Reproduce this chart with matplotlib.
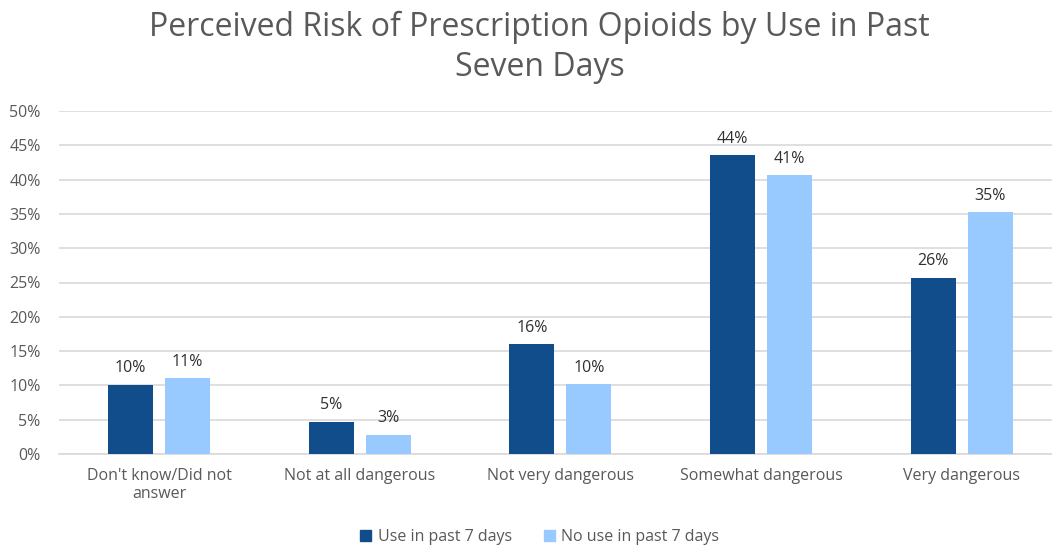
import matplotlib
matplotlib.use("Agg")
import matplotlib.pyplot as plt
import numpy as np
from matplotlib.patches import Patch

plt.rcParams['font.family'] = ['Open Sans', 'DejaVu Sans']

categories = ["Don't know/Did not\nanswer", "Not at all dangerous", "Not very dangerous",
              "Somewhat dangerous", "Very dangerous"]
use_7d = [10.1, 4.7, 16.0, 43.6, 25.7]
no_use_7d = [11.1, 2.8, 10.2, 40.6, 35.3]
use_labels = ["10%", "5%", "16%", "44%", "26%"]
no_use_labels = ["11%", "3%", "10%", "41%", "35%"]
series_names = ["Use in past 7 days", "No use in past 7 days"]
yticks = [0, 5, 10, 15, 20, 25, 30, 35, 40, 45, 50]

dark = "#114D8A"
light = "#99CAFF"
text_grey = "#595959"
grid_grey = "#D9D9D9"

fig = plt.figure(figsize=(10.52, 5.46), dpi=100)
ax = fig.add_axes([58.6 / 1052, 92 / 546, 1003.5 / 1052, 343 / 546])

x = np.arange(len(categories))
w = 0.225
off = 0.142
b1 = ax.bar(x - off, use_7d, w, color=dark, zorder=3)
b2 = ax.bar(x + off, no_use_7d, w, color=light, zorder=3)

for rect, lab in zip(b1, use_labels):
    ax.annotate(lab, (rect.get_x() + rect.get_width() / 2, rect.get_height()),
                xytext=(0, 6), textcoords="offset points", ha="center", va="bottom",
                fontsize=11.5, color="#303030")
for rect, lab in zip(b2, no_use_labels):
    ax.annotate(lab, (rect.get_x() + rect.get_width() / 2, rect.get_height()),
                xytext=(0, 6), textcoords="offset points", ha="center", va="bottom",
                fontsize=11.5, color="#303030")

ax.set_xlim(-0.5, len(categories) - 0.5)
ax.set_ylim(0, 50)
ax.set_yticks(yticks)
ax.set_yticklabels([f"{t}%" for t in yticks])
ax.set_xticks(x)
ax.set_xticklabels(categories)
ax.tick_params(axis='both', length=0, labelsize=11.5, colors=text_grey)
ax.tick_params(axis='y', pad=13)
ax.tick_params(axis='x', pad=10)
ax.grid(axis='y', color=grid_grey, linewidth=1.2, zorder=0)
for s in ['top', 'right', 'left']:
    ax.spines[s].set_visible(False)
ax.spines['bottom'].set_color(grid_grey)
ax.spines['bottom'].set_linewidth(1.2)

fig.text(0.513, 0.913, "Perceived Risk of Prescription Opioids by Use in Past\nSeven Days",
         ha="center", va="center", fontsize=23, color=text_grey, linespacing=1.3)

handles = [Patch(color=dark), Patch(color=light)]
fig.legend(handles, series_names, loc="center", bbox_to_anchor=(0.513, 0.017),
           ncol=2, frameon=False, fontsize=11.5, labelcolor=text_grey,
           handlelength=0.7, handleheight=0.7, handletextpad=0.4, columnspacing=2.0)

fig.savefig("out.png", dpi=100)
